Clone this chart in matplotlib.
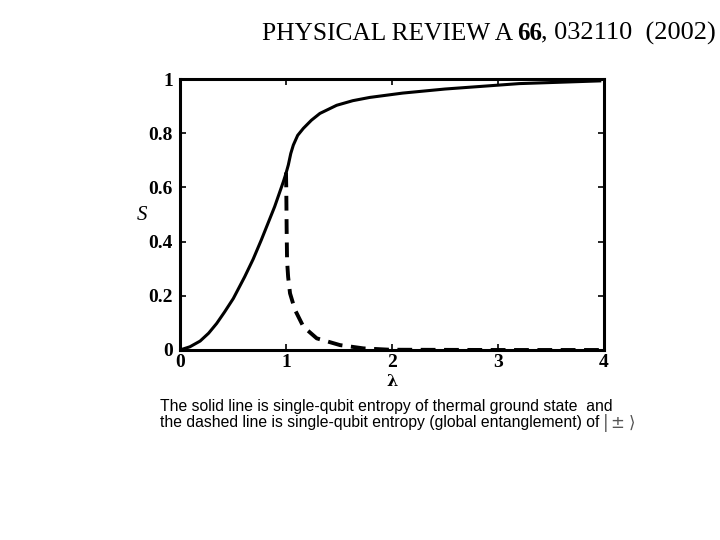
import matplotlib
matplotlib.use("Agg")
import matplotlib.pyplot as plt

# Data
solid_lam = [0.0, 0.094, 0.19, 0.27, 0.346, 0.42, 0.503, 0.61, 0.69, 0.767, 0.893, 0.975, 1.0,
             1.022, 1.045, 1.069, 1.11, 1.164, 1.24, 1.32, 1.478, 1.63, 1.79, 2.1, 2.5, 3.2, 3.96]
solid_S   = [0.0, 0.012, 0.033, 0.062, 0.098, 0.14, 0.19, 0.27, 0.335, 0.406, 0.529, 0.621, 0.652,
             0.683, 0.725, 0.756, 0.792, 0.818, 0.848, 0.873, 0.903, 0.920, 0.932, 0.948, 0.963, 0.983, 0.993]

dash_lam = [1.0, 1.003, 1.006, 1.01, 1.02, 1.038, 1.085, 1.164, 1.29, 1.51, 1.73, 1.98, 3.0, 4.0]
dash_S   = [0.655, 0.58, 0.45, 0.33, 0.27, 0.209, 0.148, 0.086, 0.043, 0.018, 0.006, 0.001, 0.0, 0.0]

xticks = [0, 1, 2, 3, 4]
yticks = [0, 0.2, 0.4, 0.6, 0.8, 1]
ytick_labels = ["0", "0.2", "0.4", "0.6", "0.8", "1"]

W, H = 720, 540
fig = plt.figure(figsize=(7.2, 5.4), dpi=100)
ax = fig.add_axes([180 / W, 1 - 350 / H, (604 - 180) / W, (350 - 79) / H])

ax.plot(solid_lam, solid_S, color="black", lw=2.2, solid_joinstyle="round")
ax.plot(dash_lam, dash_S, color="black", lw=2.8, dashes=(3.8, 2.2))

ax.set_xlim(0, 4)
ax.set_ylim(0, 1)
ax.set_xticks(xticks)
ax.set_yticks(yticks)
ax.set_xticklabels([str(t) for t in xticks])
ax.set_yticklabels(ytick_labels)
for lab in ax.get_xticklabels() + ax.get_yticklabels():
    lab.set_fontfamily("Liberation Serif")
    lab.set_fontweight("bold")
    lab.set_fontsize(14)
ax.tick_params(direction="in", top=True, right=True, length=4, width=1.2, pad=5)
ax.tick_params(axis="x", pad=3)
for s in ax.spines.values():
    s.set_linewidth(2.2)

fig.text(142 / W, 1 - 215 / H, "S", fontfamily="Liberation Serif", fontstyle="italic",
         fontsize=15, ha="center", va="center")
fig.text(392 / W, 1 - 381 / H, "λ", fontfamily="DejaVu Serif", fontweight="bold",
         fontsize=11.5, ha="center", va="center")

# Header
base = 1 - 39.5 / H
fig.text(262 / W, base, "PHYSICAL REVIEW A", fontfamily="Liberation Serif",
         fontsize=18.3, ha="left", va="baseline")
fig.text(517 / W, base, "66", fontfamily="Liberation Serif", fontweight="bold",
         fontsize=18, ha="left", va="baseline")
fig.text(541 / W, base, ", 032110  (2002)", fontfamily="Liberation Serif",
         fontsize=19, ha="left", va="baseline")

# Caption
fig.text(160 / W, 1 - 406 / H, "The solid line is single-qubit entropy of thermal ground state  and",
         fontfamily="Liberation Sans", fontsize=11.3, ha="left", va="center")
fig.text(160 / W, 1 - 423 / H, "the dashed line is single-qubit entropy (global entanglement) of",
         fontfamily="Liberation Sans", fontsize=11.3, ha="left", va="center")
fig.text(602 / W, 1 - 423 / H, r"$|\pm\rangle$", fontsize=12, ha="left", va="center",
         color="#555555")

fig.savefig("out.png", dpi=100)
